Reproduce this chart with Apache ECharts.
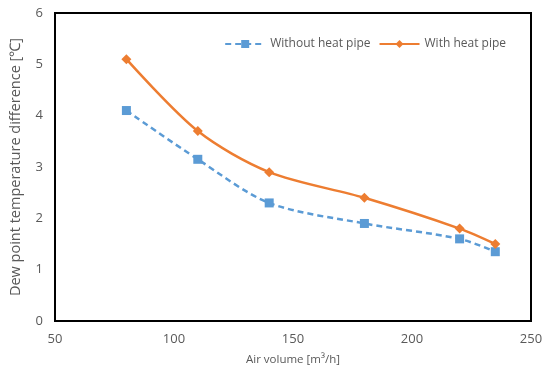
<!DOCTYPE html>
<html>
<head>
<meta charset="utf-8">
<script src="https://cdn.jsdelivr.net/npm/echarts@6/dist/echarts.min.js"></script>
<style>
  html, body { margin: 0; padding: 0; background: #fff; }
  #chart { width: 547px; height: 378px; }
</style>
</head>
<body>
<div id="chart"></div>
<script>
// air volume [m3/h]
const airVolume = [80, 110, 140, 180, 220, 235];
const withoutHeatPipe = [4.1, 3.15, 2.3, 1.9, 1.6, 1.35];
const withHeatPipe = [5.1, 3.7, 2.9, 2.4, 1.8, 1.5];

const toPairs = (xs, ys) => xs.map((x, i) => [x, ys[i]]);

const chart = echarts.init(document.getElementById("chart"));

const labelFont = {
  color: "#595959",
  fontFamily: "Open Sans",
  fontSize: 13,
};

chart.setOption({
  animation: false,
  grid: {
    left: 55,
    right: 16,
    top: 13,
    bottom: 57,
    show: true,
    borderColor: "#000",
    borderWidth: 2,
  },
  legend: {
    top: 33,
    right: 36,
    itemWidth: 40,
    itemHeight: 10,
    itemGap: 8,
    textStyle: { color: "#595959", fontFamily: "Open Sans", fontSize: 12 },
    data: ["Without heat pipe", "With heat pipe"],
  },
  xAxis: {
    type: "value",
    min: 50,
    max: 250,
    interval: 50,
    name: "Air volume [m³/h]",
    nameLocation: "middle",
    nameGap: 33,
    nameTextStyle: { ...labelFont, fontSize: 11.5 },
    axisLine: { show: false },
    axisTick: { show: false },
    splitLine: { show: false },
    axisLabel: { ...labelFont, margin: 12 },
  },
  yAxis: {
    type: "value",
    min: 0,
    max: 6,
    interval: 1,
    name: "Dew point temperature difference [℃]",
    nameLocation: "middle",
    nameGap: 32,
    nameTextStyle: { ...labelFont, fontSize: 14.5 },
    axisLine: { show: false },
    axisTick: { show: false },
    splitLine: { show: false },
    axisLabel: { ...labelFont, margin: 12 },
  },
  series: [
    {
      name: "Without heat pipe",
      type: "line",
      data: toPairs(airVolume, withoutHeatPipe),
      smooth: 0.3,
      symbol: "rect",
      symbolSize: 9,
      lineStyle: { color: "#5B9BD5", width: 2.5, type: [6, 4] },
      itemStyle: { color: "#5B9BD5" },
    },
    {
      name: "With heat pipe",
      type: "line",
      data: toPairs(airVolume, withHeatPipe),
      smooth: 0.3,
      symbol: "diamond",
      symbolSize: 10,
      lineStyle: { color: "#ED7D31", width: 2.5 },
      itemStyle: { color: "#ED7D31" },
    },
  ],
});
</script>
</body>
</html>
